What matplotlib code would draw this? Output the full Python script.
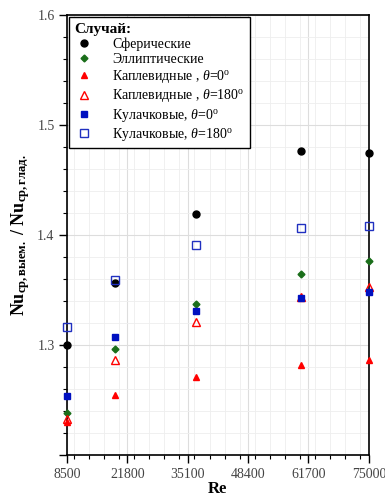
import matplotlib
matplotlib.use('Agg')
import matplotlib.pyplot as plt
from matplotlib.ticker import MultipleLocator, FixedLocator

plt.rcParams['font.family'] = ['Liberation Serif', 'DejaVu Serif']
plt.rcParams['mathtext.fontset'] = 'custom'
plt.rcParams['mathtext.rm'] = 'Liberation Serif'
plt.rcParams['mathtext.it'] = 'Liberation Serif:italic'
plt.rcParams['mathtext.bf'] = 'Liberation Serif:bold'

re_vals = [8500, 19000, 37000, 60000, 75000]
spher = [1.300, 1.356, 1.419, 1.476, 1.475]
ellip = [1.238, 1.296, 1.337, 1.365, 1.376]
drop0 = [1.230, 1.255, 1.271, 1.282, 1.286]
drop180 = [1.233, 1.286, 1.321, 1.344, 1.353]
cam0 = [1.254, 1.307, 1.331, 1.343, 1.348]
cam180 = [1.316, 1.359, 1.391, 1.406, 1.408]
xticks = [8500, 21800, 35100, 48400, 61700, 75000]

fig = plt.figure(figsize=(3.85, 4.99), dpi=100)
ax = fig.add_axes([0.174, 0.088, 0.784, 0.882])

kw = dict(linestyle='none', clip_on=False, zorder=5)
ax.plot(re_vals, spher, 'o', color='black', ms=5, label='Сферические', **kw)
ax.plot(re_vals, ellip, 'D', color='#1a6e1a', ms=3.5, label='Эллиптические', **kw)
ax.plot(re_vals, drop0, '^', color='red', ms=5, label='Каплевидные , $\\theta$=0$^\\mathrm{o}$', **kw)
ax.plot(re_vals, drop180, '^', mfc='none', mec='red', ms=6, mew=1,
        label='Каплевидные , $\\theta$=180$^\\mathrm{o}$', **kw)
ax.plot(re_vals, cam0, 's', color='#0010c0', ms=5, label='Кулачковые, $\\theta$=0$^\\mathrm{o}$', **kw)
ax.plot(re_vals, cam180, 's', mfc='none', mec='#2030c0', ms=6, mew=1,
        label='Кулачковые, $\\theta$=180$^\\mathrm{o}$', **kw)

ax.set_xlim(8500, 75000)
ax.set_ylim(1.2, 1.6)
ax.xaxis.set_major_locator(FixedLocator(xticks))
ax.xaxis.set_minor_locator(MultipleLocator(3325))
ax.yaxis.set_major_locator(MultipleLocator(0.1))
ax.yaxis.set_minor_locator(MultipleLocator(0.02))
ax.yaxis.set_major_formatter(plt.FuncFormatter(lambda v, p: '' if abs(v - 1.2) < 1e-6 else '%.1f' % v))

ax.tick_params(which='major', direction='out', length=6, width=1, labelsize=10,
               labelcolor='#444444', pad=3)
ax.tick_params(which='minor', direction='out', length=3, width=0.8)
ax.grid(which='major', color='#dddddd', lw=0.8)
ax.grid(which='minor', color='#eeeeee', lw=0.6)
ax.set_axisbelow(True)
for s in ax.spines.values():
    s.set_linewidth(1.2)

ax.set_xlabel('Re', fontsize=12, fontweight='bold', labelpad=0)
ax.set_ylabel('$\\mathbf{Nu}_{\\mathbf{ср,выем.}}$ / $\\mathbf{Nu}_{\\mathbf{ср,глад.}}$',
              fontsize=13, fontweight='bold', labelpad=4)

leg = ax.legend(loc='upper left', title='Случай:', fontsize=10, frameon=True, fancybox=False,
                edgecolor='black', framealpha=1, borderaxespad=0.15, handletextpad=1.4,
                labelspacing=0.15, borderpad=0.4, handlelength=1.3)
leg.get_frame().set_linewidth(1.0)
leg._legend_box.align = 'left'
leg.get_title().set_fontweight('bold')
leg.get_title().set_fontsize(11)

fig.savefig('out.png', dpi=100)
